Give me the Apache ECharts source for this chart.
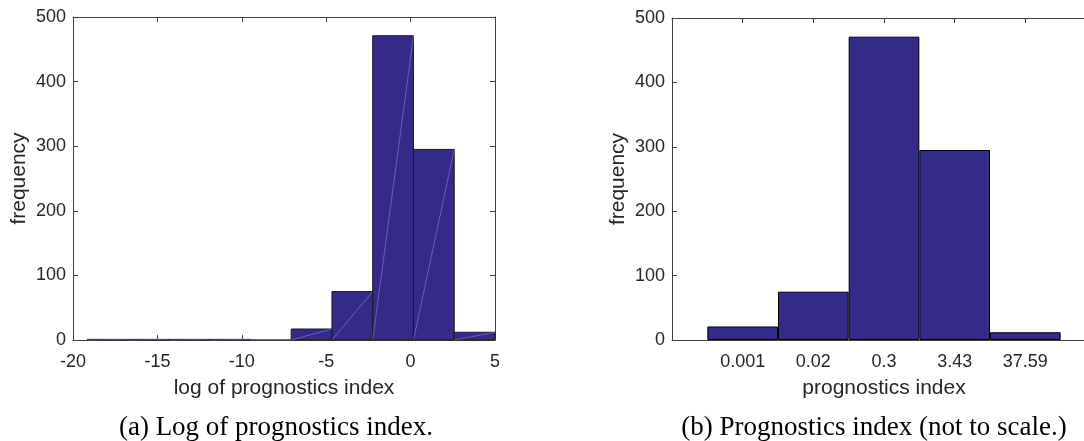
<!DOCTYPE html>
<html>
<head>
<meta charset="utf-8">
<script src="https://cdn.jsdelivr.net/npm/echarts@6/dist/echarts.min.js"></script>
<style>
html,body{margin:0;padding:0;background:#fff;}
#chart{width:1084px;height:441px;}
</style>
</head>
<body>
<div id="chart"></div>
<script>
// ---- data ----
const logBinEdges = [-19.15, -16.735, -14.32, -11.905, -9.49, -7.075, -4.66, -2.245, 0.17, 2.585, 5.0];
const logCounts   = [1, 1, 1, 1, 0, 17, 75, 471, 295, 12];
const piLabels    = ['0.001', '0.02', '0.3', '3.43', '37.59'];
const piCounts    = [21, 75, 471, 295, 12];
const yTicks      = [0, 100, 200, 300, 400, 500];
const logTicks    = [-20, -15, -10, -5, 0, 5];

const barColor = '#352a87';
const axisColor = '#404040';
const textColor = '#262626';
const sans = 'Liberation Sans, Arial, Helvetica, sans-serif';
const serif = 'Liberation Serif, Times New Roman, serif';

const histData = logCounts.map((c, i) => [logBinEdges[i], logBinEdges[i + 1], c]);
const piCats = [''].concat(piLabels, ['']);
const piData = ['-'].concat(piCounts, ['-']);

function axisCommon(showLabel) {
  return {
    axisLine: { show: true, onZero: false, lineStyle: { color: axisColor, width: 1 } },
    axisTick: { show: true, inside: true, length: 5, lineStyle: { color: axisColor } },
    axisLabel: { show: showLabel, color: textColor, fontFamily: sans, fontSize: 18 },
    splitLine: { show: false }
  };
}

const chart = echarts.init(document.getElementById('chart'), null, { renderer: 'canvas' });

const option = {
  animation: false,
  backgroundColor: '#fff',
  grid: [
    { left: 73, width: 422, top: 17, bottom: 101, containLabel: false, outerBoundsMode: 'none' },
    { left: 672, width: 424, top: 18, bottom: 101, containLabel: false, outerBoundsMode: 'none' }
  ],
  xAxis: [
    Object.assign(axisCommon(true), {
      type: 'value', gridIndex: 0, position: 'bottom',
      min: logTicks[0], max: logTicks[logTicks.length - 1], interval: 5,
      name: 'log of prognostics index', nameLocation: 'middle', nameGap: 38,
      nameTextStyle: { color: textColor, fontFamily: sans, fontSize: 21 },
      axisLabel: { color: textColor, fontFamily: sans, fontSize: 18, margin: 13 }
    }),
    Object.assign(axisCommon(false), {
      type: 'value', gridIndex: 0, position: 'top',
      min: logTicks[0], max: logTicks[logTicks.length - 1], interval: 5
    }),
    Object.assign(axisCommon(true), {
      type: 'category', gridIndex: 1, position: 'bottom', data: piCats, boundaryGap: false,
      name: 'prognostics index', nameLocation: 'middle', nameGap: 38,
      nameTextStyle: { color: textColor, fontFamily: sans, fontSize: 21 },
      axisTick: { show: true, inside: true, length: 5, interval: 0, lineStyle: { color: axisColor } },
      axisLabel: { color: textColor, fontFamily: sans, fontSize: 18, margin: 13, interval: 0 }
    }),
    Object.assign(axisCommon(false), {
      type: 'category', gridIndex: 1, position: 'top', data: piCats, boundaryGap: false,
      axisTick: { show: true, inside: true, length: 5, interval: 0, lineStyle: { color: axisColor } }
    })
  ],
  yAxis: [
    Object.assign(axisCommon(true), {
      type: 'value', gridIndex: 0, position: 'left',
      min: yTicks[0], max: yTicks[yTicks.length - 1], interval: 100,
      name: 'frequency', nameLocation: 'middle', nameGap: 43,
      nameTextStyle: { color: textColor, fontFamily: sans, fontSize: 21 },
      axisLabel: { color: textColor, fontFamily: sans, fontSize: 18, margin: 7 }
    }),
    Object.assign(axisCommon(false), {
      type: 'value', gridIndex: 0, position: 'right',
      min: yTicks[0], max: yTicks[yTicks.length - 1], interval: 100
    }),
    Object.assign(axisCommon(true), {
      type: 'value', gridIndex: 1, position: 'left',
      min: yTicks[0], max: yTicks[yTicks.length - 1], interval: 100,
      name: 'frequency', nameLocation: 'middle', nameGap: 43,
      nameTextStyle: { color: textColor, fontFamily: sans, fontSize: 21 },
      axisLabel: { color: textColor, fontFamily: sans, fontSize: 18, margin: 7 }
    }),
    Object.assign(axisCommon(false), {
      type: 'value', gridIndex: 1, position: 'right',
      min: yTicks[0], max: yTicks[yTicks.length - 1], interval: 100
    })
  ],
  series: [
    {
      type: 'custom',
      xAxisIndex: 0, yAxisIndex: 0,
      data: histData,
      encode: { x: [0, 1], y: 2 },
      renderItem: function (params, api) {
        const p0 = api.coord([api.value(0), 0]);
        const p1 = api.coord([api.value(1), api.value(2)]);
        const x = p0[0], y = p1[1], w = p1[0] - p0[0], h = p0[1] - p1[1];
        return {
          type: 'group',
          children: [
            {
              type: 'rect',
              shape: { x: x, y: y, width: w, height: h },
              style: { fill: barColor, stroke: '#1a1a1a', lineWidth: 1 }
            },
            {
              type: 'line',
              shape: { x1: x, y1: p0[1], x2: x + w, y2: y },
              style: { stroke: 'rgba(200,190,255,0.45)', lineWidth: 0.8 }
            }
          ]
        };
      }
    },
    {
      type: 'bar',
      xAxisIndex: 2, yAxisIndex: 2,
      data: piData,
      barWidth: '100%',
      barGap: '0%',
      itemStyle: { color: barColor, borderColor: '#000', borderWidth: 1 }
    }
  ],
  graphic: [
    {
      type: 'text', x: 276, y: 428,
      style: {
        text: '(a) Log of prognostics index.', fill: '#000',
        font: '27px ' + serif, textAlign: 'center', textVerticalAlign: 'middle'
      }
    },
    {
      type: 'text', x: 874, y: 428,
      style: {
        text: '(b) Prognostics index (not to scale.)', fill: '#000',
        font: '27px ' + serif, textAlign: 'center', textVerticalAlign: 'middle'
      }
    }
  ]
};
chart.setOption(option);
</script>
</body>
</html>
